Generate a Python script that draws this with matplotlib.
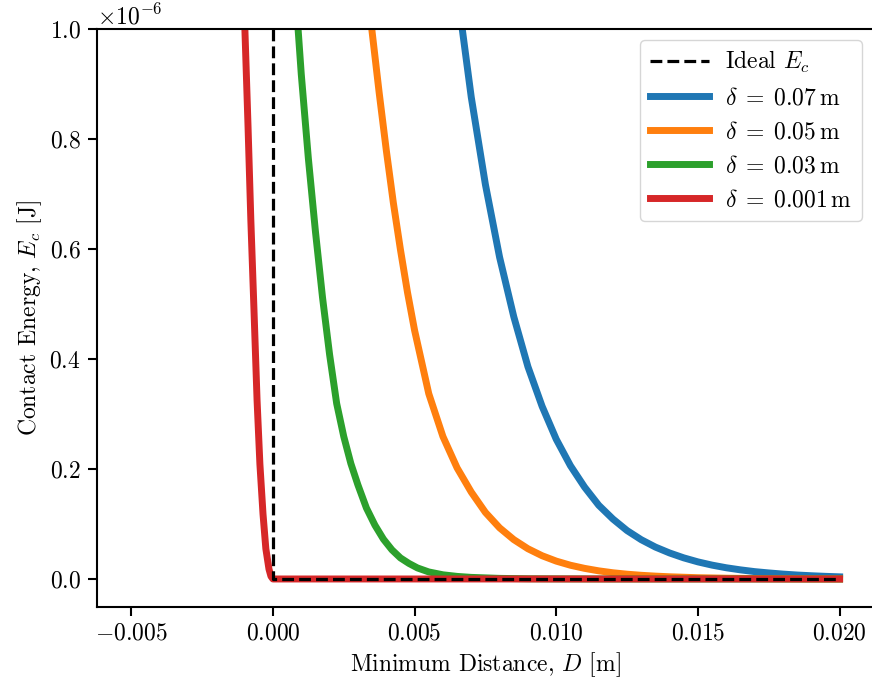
import matplotlib
matplotlib.use("Agg")
import matplotlib.pyplot as plt

plt.rcParams['font.family'] = 'serif'
plt.rcParams['font.serif'] = ['cmr10', 'DejaVu Serif']
plt.rcParams['mathtext.fontset'] = 'cm'
plt.rcParams['axes.formatter.use_mathtext'] = True
plt.rcParams['axes.unicode_minus'] = True
FS = 17
plt.rcParams['font.size'] = FS

# Ideal contact energy
ideal_x = [0.0, 0.0, 0.020]
ideal_y = [1.0e-6, 0.0, 0.0]

# delta = 0.07 m  (energies in units of 1e-6 J)
blue_x = [0.0065, 0.0070, 0.0075, 0.0080, 0.0085, 0.0090, 0.0095, 0.0100, 0.0105, 0.0110,
          0.0115, 0.0120, 0.0125, 0.0130, 0.0135, 0.0140, 0.0145, 0.0150, 0.0155, 0.0160,
          0.0165, 0.0170, 0.0175, 0.0180, 0.0185, 0.0190, 0.0195, 0.0200]
blue_y = [1.071, 0.876, 0.717, 0.585, 0.477, 0.386, 0.314, 0.254, 0.206, 0.167,
          0.134, 0.109, 0.088, 0.0714, 0.058, 0.0473, 0.0384, 0.0311, 0.0252, 0.0204,
          0.0166, 0.0134, 0.0110, 0.0089, 0.0072, 0.0059, 0.0048, 0.0039]

# delta = 0.05 m
orange_x = [0.0033, 0.0035, 0.00375, 0.0040, 0.00425, 0.0045, 0.00475, 0.0050, 0.0055, 0.0060,
            0.0065, 0.0070, 0.0075, 0.0080, 0.0085, 0.0090, 0.0095, 0.0100, 0.0105, 0.0110,
            0.0115, 0.0120, 0.0125, 0.0130, 0.0135, 0.0140, 0.0150, 0.0160, 0.0170, 0.0180,
            0.0190, 0.0200]
orange_y = [1.095, 0.995, 0.884, 0.780, 0.684, 0.599, 0.521, 0.452, 0.337, 0.259,
            0.202, 0.158, 0.121, 0.093, 0.0716, 0.055, 0.0423, 0.0325, 0.0250, 0.0193,
            0.0148, 0.0113, 0.0087, 0.0067, 0.0052, 0.0040, 0.0023, 0.0014, 0.0008, 0.0005,
            0.0003, 0.0002]

# delta = 0.03 m
green_x = [0.0007, 0.0010, 0.00125, 0.0015, 0.00175, 0.0020, 0.00225, 0.0025, 0.00275, 0.0030,
           0.0033, 0.0036, 0.0039, 0.0042, 0.0045, 0.0048, 0.0051, 0.0055, 0.0060, 0.0065,
           0.0070, 0.0080, 0.0090, 0.0100, 0.0120, 0.0200]
green_y = [1.137, 0.918, 0.765, 0.632, 0.512, 0.408, 0.319, 0.259, 0.210, 0.171,
           0.129, 0.0978, 0.0724, 0.0530, 0.0383, 0.0283, 0.0201, 0.0128, 0.0076, 0.0047,
           0.0029, 0.0011, 0.0004, 0.0002, 0.0, 0.0]

# delta = 0.001 m
red_x = [-0.00106, -0.00099, -0.00088, -0.00078, -0.00067, -0.00056, -0.00046, -0.00035,
         -0.00025, -0.00014, -0.00007, 0.0, 0.00004, 0.0200]
red_y = [1.116, 1.000, 0.825, 0.653, 0.491, 0.325, 0.209, 0.118,
         0.055, 0.018, 0.005, 0.0, 0.0, 0.0]

scale = 1e-6
labels = [r'Ideal $E_c$', r'$\delta\;=\;0.07\,\mathrm{m}$', r'$\delta\;=\;0.05\,\mathrm{m}$',
          r'$\delta\;=\;0.03\,\mathrm{m}$', r'$\delta\;=\;0.001\,\mathrm{m}$']

fig = plt.figure(figsize=(8.72, 6.88), dpi=100)
ax = fig.add_axes([96.7 / 872, 1 - 606.7 / 688, (875 - 96.7) / 872, (606.7 - 29) / 688])

lw = 5.0
ax.plot(ideal_x, ideal_y, color='black', linestyle='--', linewidth=2.3, zorder=5, label=labels[0])
ax.plot(blue_x, [v * scale for v in blue_y], color='#1f77b4', linewidth=lw, label=labels[1])
ax.plot(orange_x, [v * scale for v in orange_y], color='#ff7f0e', linewidth=lw, label=labels[2])
ax.plot(green_x, [v * scale for v in green_y], color='#2ca02c', linewidth=lw, label=labels[3])
ax.plot(red_x, [v * scale for v in red_y], color='#d62728', linewidth=lw, label=labels[4])

ax.set_xlim(-0.00622, 0.02125)
ax.set_ylim(-0.0504e-6, 1.0e-6)
ax.set_xticks([-0.005, 0.0, 0.005, 0.010, 0.015, 0.020])
ax.set_yticks([0.0, 0.2e-6, 0.4e-6, 0.6e-6, 0.8e-6, 1.0e-6])

for s in ax.spines.values():
    s.set_linewidth(1.5)
ax.tick_params(width=1.5, length=6.5, labelsize=FS, pad=5)
ax.yaxis.get_offset_text().set_fontsize(FS)

ax.set_xlabel(r'Minimum Distance, $D$ [m]', fontsize=FS)
ax.set_ylabel(r'Contact Energy, $E_c$ [J]', fontsize=FS)

ax.legend(loc='upper right', fontsize=FS, handlelength=2.5, handletextpad=0.7,
          framealpha=0.8, bbox_to_anchor=(0.9833, 0.981), borderaxespad=0.0)

fig.savefig('out.png', dpi=100)
